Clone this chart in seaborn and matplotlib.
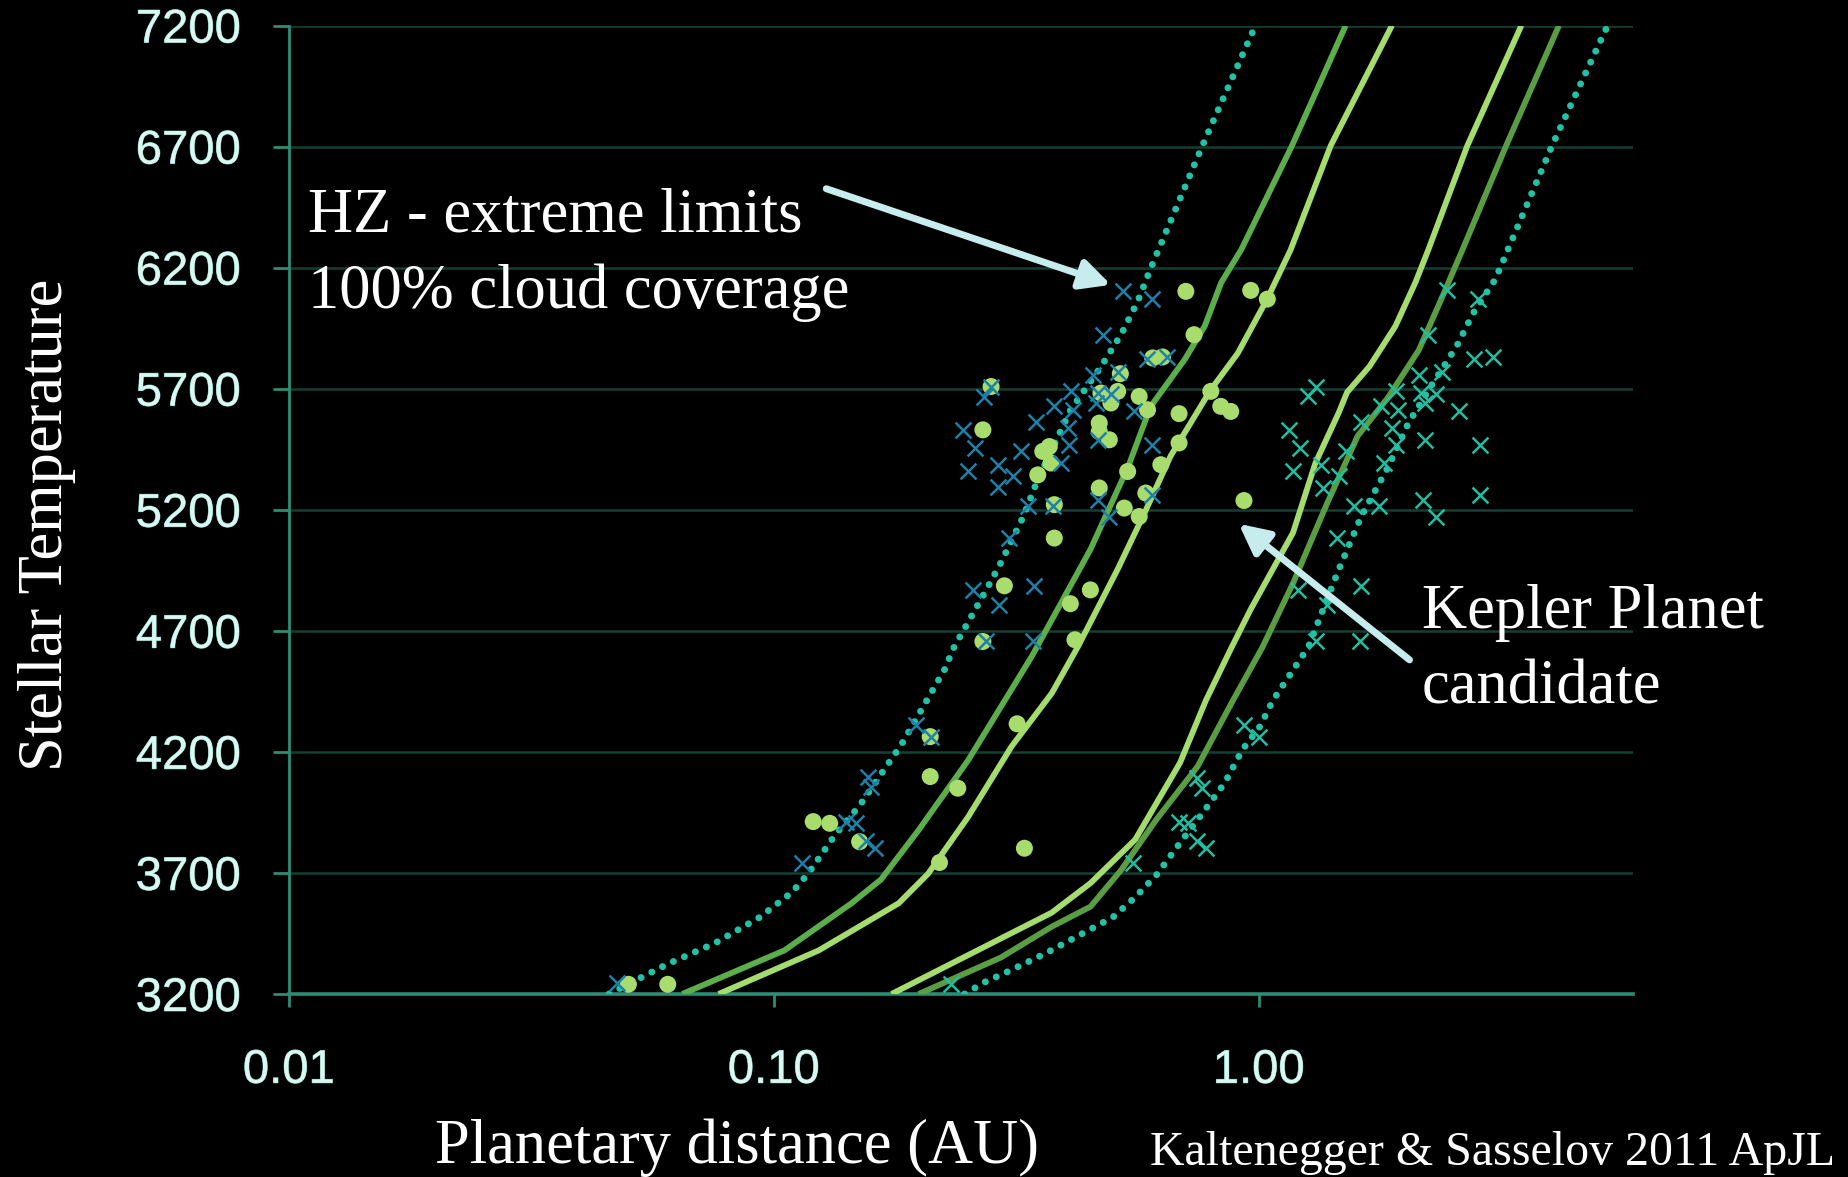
import matplotlib
matplotlib.use("Agg")
import matplotlib.pyplot as plt
import matplotlib.patheffects as pe
import numpy as np
import pandas as pd
import seaborn as sns

# ---------------------------------------------------------------------------
# Habitable-zone boundaries: planetary distance (AU) vs stellar temperature (K)
# ---------------------------------------------------------------------------
inner_extreme_au = [0.0457, 0.0601, 0.0756, 0.0935, 0.1088, 0.1176, 0.1338, 0.1504,
                    0.1719, 0.1829, 0.2248, 0.2351, 0.2720, 0.2940, 0.3270, 0.3498,
                    0.4089, 0.4729, 0.5200, 0.5623, 0.5980, 0.7645, 0.9669, 0.984]
inner_extreme_t = [3200, 3322, 3410, 3517, 3619, 3697, 3858, 3980,
                   4150, 4228, 4540, 4632, 4857, 4983, 5173, 5324,
                   5612, 5792, 5924, 6060, 6196, 6703, 7166, 7200]

inner_a_au = [0.0647, 0.1051, 0.1446, 0.1663, 0.1988, 0.2514, 0.3401, 0.4497,
              0.5377, 0.5980, 0.7034, 0.7732, 0.8362, 0.9196, 1.170, 1.51]
inner_a_t = [3200, 3380, 3575, 3673, 3877, 4165, 4594, 5037,
             5378, 5626, 5821, 5958, 6138, 6274, 6703, 7200]

inner_b_au = [0.0769, 0.1237, 0.1809, 0.2080, 0.2514, 0.3092, 0.3740, 0.4229,
              0.5114, 0.5815, 0.6577, 0.7954, 0.9044, 1.040, 1.163, 1.406, 1.881]
inner_b_t = [3200, 3380, 3575, 3697, 3931, 4223, 4442, 4632,
             4954, 5188, 5422, 5695, 5846, 6070, 6274, 6703, 7200]

outer_b_au = [0.1748, 0.3740, 0.4497, 0.5560, 0.6878, 0.7777, 0.8743, 0.9615,
              1.176, 1.3075, 1.462, 1.520, 1.691, 1.912, 2.102, 2.236, 2.690, 3.478]
outer_b_t = [3200, 3536, 3658, 3838, 4155, 4413, 4623, 4788,
             5105, 5392, 5602, 5685, 5792, 5958, 6138, 6274, 6703, 7200]

outer_a_au = [0.1988, 0.2940, 0.3740, 0.4497, 0.5200, 0.6150, 0.7477, 0.8844,
              1.017, 1.176, 1.383, 1.599, 1.849, 2.138, 2.378, 2.630, 3.234, 4.158]
outer_a_t = [3200, 3351, 3478, 3561, 3712, 3921, 4140, 4413,
             4632, 4896, 5227, 5505, 5665, 5860, 6070, 6274, 6703, 7200]

outer_extreme_au = [0.2472, 0.2720, 0.3041, 0.3617, 0.5000, 0.5560, 0.6150, 0.6878,
                    0.7645, 0.8504, 0.9247, 1.006, 1.069, 1.264, 1.462, 1.626,
                    1.849, 2.034, 2.262, 2.557, 2.765, 3.075, 3.216, 4.022, 5.143, 5.24]
outer_extreme_t = [3200, 3249, 3293, 3366, 3517, 3600, 3692, 3824,
                   3946, 4072, 4209, 4306, 4413, 4632, 4954, 5173,
                   5378, 5558, 5709, 5875, 6011, 6153, 6245, 6703, 7166, 7200]

# ---------------------------------------------------------------------------
# Kepler planet candidates
# ---------------------------------------------------------------------------
kepler_au = [0.707, 0.962, 1.041, 0.735, 0.604, 0.633, 0.2804, 0.518, 0.5115, 0.4724,
             0.5665, 0.796, 0.4953, 0.5894, 0.6846, 0.8345, 0.875, 0.2697, 0.4686, 0.4686,
             0.3697, 0.3584, 0.3727, 0.3500, 0.4916, 0.5363, 0.6846, 0.6278, 0.4686, 0.5846,
             0.3786, 0.5277, 0.5665, 0.9317, 0.3786, 0.2987, 0.4493, 0.4086, 0.2697, 0.4176,
             0.3173, 0.210, 0.210, 0.2394, 0.3285, 0.2195, 0.1205, 0.1303, 0.1502, 0.0501,
             0.0604]
kepler_t = [6102, 6106, 6070, 5923, 5827, 5831, 5709, 5762, 5689, 5682,
            5668, 5689, 5641, 5613, 5597, 5627, 5606, 5530, 5558, 5523,
            5461, 5441, 5393, 5344, 5489, 5358, 5476, 5386, 5290, 5269,
            5221, 5207, 5172, 5238, 5083, 4886, 4869, 4812, 4656, 4663,
            4316, 4263, 4098, 4050, 3802, 3743, 3912, 3905, 3829, 3240,
            3240]

# Inner-edge limits for the candidate host stars
inner_limit_au = [0.5235, 0.6034, 0.4763, 0.5893, 0.6478, 0.4541, 0.5112, 0.2805, 0.2717, 0.4099,
                  0.4649, 0.4953, 0.3788, 0.4130, 0.4613, 0.5532, 0.3471, 0.4035, 0.2452, 0.2593,
                  0.3233, 0.4067, 0.4649, 0.6034, 0.3908, 0.2512, 0.2894, 0.3108, 0.2894, 0.6034,
                  0.3337, 0.3757, 0.4649, 0.4915, 0.3059, 0.2571, 0.3444, 0.2917, 0.2740, 0.3417,
                  0.0474, 0.1140, 0.1411, 0.1479, 0.1551, 0.1613, 0.1563, 0.1588, 0.1966, 0.2110]
inner_limit_t = [6102, 6070, 5923, 5822, 5831, 5758, 5767, 5709, 5665, 5689,
                 5682, 5679, 5627, 5613, 5641, 5606, 5561, 5537, 5528, 5455,
                 5441, 5468, 5489, 5468, 5393, 5358, 5386, 5338, 5293, 5262,
                 5216, 5216, 5241, 5172, 5083, 4869, 4886, 4807, 4656, 4656,
                 3244, 3743, 3912, 3905, 3830, 3802, 4098, 4057, 4312, 4263]

# Outer-edge limits for the candidate host stars
outer_limit_au = [2.448, 2.830, 2.236, 2.780, 3.043, 2.137, 2.382, 1.309, 1.263, 1.917,
                  2.157, 2.318, 1.782, 1.934, 2.196, 2.585, 1.627, 1.882, 1.153, 1.218,
                  1.514, 1.917, 2.196, 2.856, 1.814, 1.174, 1.345, 1.460, 1.358, 2.856,
                  1.569, 1.766, 2.176, 2.318, 1.446, 1.207, 1.627, 1.382, 1.309, 1.613,
                  0.932, 1.003, 0.746, 0.762, 0.686, 0.715, 0.746, 0.778, 0.549, 0.232]
outer_limit_t = [6106, 6070, 5923, 5822, 5831, 5758, 5767, 5709, 5668, 5689,
                 5682, 5679, 5627, 5613, 5641, 5606, 5561, 5537, 5528, 5455,
                 5441, 5468, 5489, 5468, 5393, 5358, 5386, 5340, 5289, 5262,
                 5216, 5216, 5241, 5172, 5083, 4869, 4886, 4807, 4656, 4656,
                 4312, 4263, 4091, 4050, 3912, 3905, 3830, 3802, 3743, 3240]

y_ticks = [3200, 3700, 4200, 4700, 5200, 5700, 6200, 6700, 7200]
x_ticks = [0.01, 0.1, 1.0]
x_tick_labels = ["0.01", "0.10", "1.00"]

# ---------------------------------------------------------------------------
sns.set_theme(style="dark", rc={"axes.facecolor": "black",
                                "figure.facecolor": "black",
                                "savefig.facecolor": "black"})
plt.rcParams["font.family"] = ["Liberation Serif", "DejaVu Serif"]

DOT_TEAL = "#22c2a6"
MID_GREEN_IN = "#5cae4a"
MID_GREEN_OUT = "#5a9e44"
LIGHT_GREEN = "#a4dc6e"
CAND_GREEN = "#a8dc6c"
X_BLUE = "#1f80a8"
X_TEAL = "#22bea2"
GRID = "#143f35"
AXIS = "#2f8c74"
TICK_TXT = "#dcf7f2"
ARROW = "#c6ecee"

fig = plt.figure(figsize=(18.49, 11.77), dpi=100)
ax = fig.add_axes([0.1563, 0.15548, 0.7269, 0.82285])
ax.set_facecolor("black")

dotted = (0, (0.01, 1.72))
curves = [
    (inner_extreme_au, inner_extreme_t, DOT_TEAL, dotted, 5.0),
    (inner_a_au, inner_a_t, MID_GREEN_IN, "-", 4.2),
    (inner_b_au, inner_b_t, LIGHT_GREEN, "-", 4.2),
    (outer_b_au, outer_b_t, LIGHT_GREEN, "-", 4.2),
    (outer_a_au, outer_a_t, MID_GREEN_OUT, "-", 4.2),
    (outer_extreme_au, outer_extreme_t, DOT_TEAL, dotted, 5.0),
]
for au, temp, col, ls, lw in curves:
    df = pd.DataFrame({"au": au, "temp": temp})
    sns.lineplot(data=df, x="au", y="temp", sort=False, estimator=None,
                 color=col, linestyle=ls, linewidth=lw,
                 dash_capstyle="round", solid_capstyle="butt",
                 solid_joinstyle="round",
                 ax=ax, zorder=2, legend=False)

cand = pd.DataFrame({"au": kepler_au, "temp": kepler_t})
sns.scatterplot(data=cand, x="au", y="temp", marker="o", s=150,
                color=CAND_GREEN, edgecolor="none", ax=ax, zorder=3, legend=False)

inner_df = pd.DataFrame({"au": inner_limit_au, "temp": inner_limit_t})
sns.scatterplot(data=inner_df, x="au", y="temp", marker="x", s=130,
                color=X_BLUE, linewidth=1.8, ax=ax, zorder=4, legend=False)

outer_df = pd.DataFrame({"au": outer_limit_au, "temp": outer_limit_t})
sns.scatterplot(data=outer_df, x="au", y="temp", marker="x", s=130,
                color=X_TEAL, linewidth=1.8, ax=ax, zorder=4, legend=False)

# Axes styling
ax.set_xscale("log")
ax.set_xlim(0.01, 5.91)
ax.set_ylim(3200, 7200)
ax.set_xticks(x_ticks)
ax.set_xticklabels(x_tick_labels)
ax.xaxis.set_minor_locator(matplotlib.ticker.NullLocator())
ax.set_yticks(y_ticks)
ax.set_yticklabels([str(t) for t in y_ticks])
ax.set_xlabel("")
ax.set_ylabel("")

ax.grid(False)
ax.yaxis.grid(True, color=GRID, linewidth=1.8)
ax.set_axisbelow(True)
for side in ("top", "right"):
    ax.spines[side].set_visible(False)
ax.spines["left"].set_color(AXIS)
ax.spines["left"].set_linewidth(2.0)
ax.spines["bottom"].set_color(AXIS)
ax.spines["bottom"].set_linewidth(2.6)
ax.spines["bottom"].set_zorder(1.5)

ax.tick_params(axis="y", which="major", left=True, length=11.5, width=2.0,
               color=AXIS, pad=23, labelsize=34, labelcolor=TICK_TXT)
ax.tick_params(axis="x", which="major", bottom=True, length=9.5, width=2.0,
               color=AXIS, pad=30, labelsize=34, labelcolor=TICK_TXT)
for lab in ax.get_xticklabels() + ax.get_yticklabels():
    lab.set_fontfamily(["Liberation Sans", "DejaVu Sans"])
    lab.set_path_effects([pe.withStroke(linewidth=0.6, foreground="#5cbcae")])

# Axis titles and notes
serif = ["Liberation Serif", "DejaVu Serif"]
fig.text(0.0335, 0.554, "Stellar Temperature", rotation=90, rotation_mode="anchor",
         ha="center", va="baseline", fontsize=45, color="white", family=serif)
fig.text(0.2353, 0.0119, "Planetary distance (AU)", ha="left", va="baseline",
         fontsize=45, color="white", family=serif)
fig.text(0.622, 0.0102, "Kaltenegger & Sasselov 2011 ApJL", ha="left", va="baseline",
         fontsize=34.5, color="white", family=serif)

fig.text(0.1666, 0.8029, "HZ - extreme limits", ha="left", va="baseline",
         fontsize=45, color="white", family=serif)
fig.text(0.1666, 0.7383, "100% cloud coverage", ha="left", va="baseline",
         fontsize=45, color="white", family=serif)
fig.text(0.769, 0.4664, "Kepler Planet", ha="left", va="baseline",
         fontsize=45, color="white", family=serif)
fig.text(0.769, 0.4027, "candidate", ha="left", va="baseline",
         fontsize=45, color="white", family=serif)

arrow_style = dict(arrowstyle="-|>,head_length=0.9,head_width=0.45", lw=5,
                   color=ARROW, mutation_scale=20, shrinkA=0, shrinkB=0)
ax.annotate("", xy=(0.4955, 6129), xytext=(0.1282, 6526),
            arrowprops=arrow_style, annotation_clip=False, zorder=6)
ax.annotate("", xy=(0.9087, 5142), xytext=(2.045, 4580),
            arrowprops=arrow_style, annotation_clip=False, zorder=6)

fig.savefig("out.png", dpi=100, facecolor="black")
